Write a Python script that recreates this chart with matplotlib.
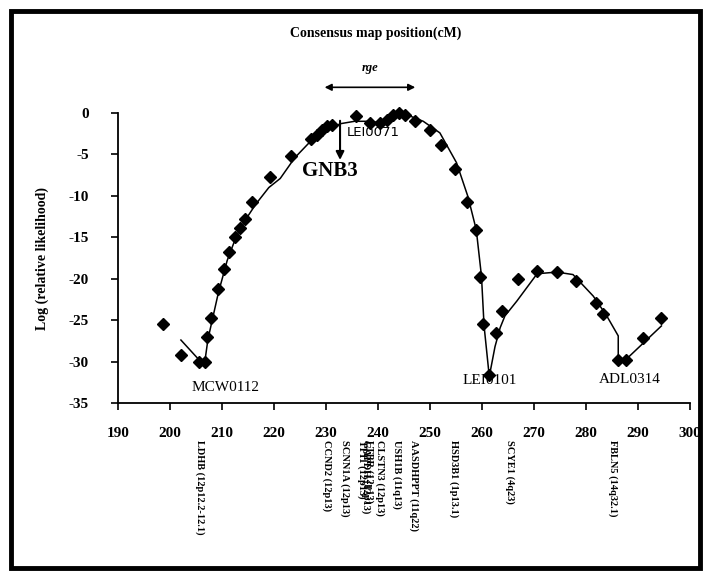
import matplotlib
matplotlib.use("Agg")
import matplotlib.pyplot as plt
from matplotlib.patches import Rectangle
from matplotlib.transforms import blended_transform_factory

plt.rcParams["axes.unicode_minus"] = False

# observed points (map position cM, log relative likelihood)
pos_cm = [198.7, 202.1, 205.5, 206.7, 207.2, 207.8, 209.2, 210.4, 211.4, 212.5,
          213.5, 214.4, 215.7, 219.2, 223.2, 227.2, 228.2, 229.2, 230.1, 231.2,
          235.8, 238.5, 240.4, 241.7, 242.9, 244.1, 245.1, 247.1, 250.0, 252.1,
          254.8, 257.2, 258.8, 259.7, 260.2, 261.4, 262.6, 263.8, 267.0, 270.6,
          274.4, 278.1, 281.9, 283.3, 286.2, 287.6, 290.9, 294.5]
log_lik = [-25.5, -29.2, -30.1, -30.0, -27.0, -24.7, -21.3, -18.8, -16.8, -15.0,
           -13.9, -12.8, -10.7, -7.7, -5.2, -3.1, -2.6, -2.0, -1.6, -1.4,
           -0.4, -1.2, -1.2, -0.8, -0.2, 0.0, -0.2, -1.0, -2.0, -3.9,
           -6.7, -10.7, -14.1, -19.8, -25.5, -31.6, -26.5, -23.9, -20.0, -19.1,
           -19.2, -20.3, -22.9, -24.3, -29.8, -29.8, -27.2, -24.7]

# fitted curve
curve_x = [202.1, 205.6, 206.7, 207.3, 209.3, 211.0, 212.8, 214.5, 216.5, 219.0,
           221.2, 224.0, 227.2, 230.0, 232.7, 235.5, 238.5, 240.4, 242.9, 245.5,
           248.7, 251.9, 255.1, 257.3, 258.9, 259.9, 260.4, 261.4, 262.5, 263.5,
           264.4, 266.7, 270.6, 274.4, 277.5, 281.4, 284.0, 286.2, 286.2, 287.6,
           294.5]
curve_y = [-27.4, -29.8, -30.0, -27.3, -21.7, -17.8, -14.8, -12.9, -11.0, -9.0,
           -7.9, -5.4, -3.3, -2.2, -1.3, -1.0, -1.0, -1.2, -0.2, -0.2,
           -1.0, -2.4, -6.0, -10.1, -14.1, -19.7, -25.7, -31.8, -28.2, -25.9,
           -24.5, -22.7, -19.4, -19.2, -19.5, -22.1, -24.5, -26.9, -29.8, -29.8,
           -25.7]

x_ticks = [190, 200, 210, 220, 230, 240, 250, 260, 270, 280, 290, 300]
y_ticks = [0, -5, -10, -15, -20, -25, -30, -35]

marker_names = ["MCW0112", "LEI0101", "ADL0314"]
marker_x = [210.6, 261.5, 288.5]
marker_y = [-33.1, -32.3, -32.2]

gene_labels = ["LDHB (12p12.2-12.1)", "CCND2 (12p13)", "SCNN1A (12p13)",
               "TPI1 (12p13)", "GAPDH (12p13)", "LTBR (12p13)",
               "CLSTN3 (12p13)", "USH1B (11q13)", "AASDHPPT (11q22)",
               "HSD3B1 (1p13.1)", "SCYE1 (4q23)", "FBLN5 (14q32.1)"]
gene_x = [205.8, 230.1, 233.6, 236.9, 237.6, 238.3, 240.4, 243.6, 246.8,
          254.5, 265.3, 285.2]

serif = ["Liberation Serif", "DejaVu Serif"]

fig = plt.figure(figsize=(7.05, 5.72), dpi=100)
ax = fig.add_axes([118/705, 1-403/572, (690-118)/705, (403-113)/572])

ax.plot(curve_x, curve_y, color="black", lw=1.1, zorder=2, clip_on=False)
ax.plot(pos_cm, log_lik, linestyle="none", marker="D", markersize=6,
        color="black", zorder=3, clip_on=False)

ax.set_xlim(190, 300)
ax.set_ylim(-35, 0)
ax.set_xticks(x_ticks)
ax.set_yticks(y_ticks)
for s in ["top", "right"]:
    ax.spines[s].set_visible(False)
for s in ["left", "bottom"]:
    ax.spines[s].set_linewidth(1.3)
ax.tick_params(axis="both", direction="out", length=5, width=1.2,
               labelsize=11)
ax.tick_params(axis="y", pad=16)
ax.tick_params(axis="x", pad=12)
for lbl in ax.get_xticklabels() + ax.get_yticklabels():
    lbl.set_fontfamily(serif)
    lbl.set_fontweight("bold")

ax.set_ylabel("Log (relative likelihood)", fontfamily=serif,
              fontweight="bold", fontsize=10, labelpad=14)

for name, mx, my in zip(marker_names, marker_x, marker_y):
    ax.text(mx, my, name, ha="center", va="center", fontfamily=serif,
            fontsize=11)

# GNB3 / LEI0071
ax.annotate("", xy=(232.7, -6.0), xytext=(232.7, -0.6),
            arrowprops=dict(arrowstyle="-|>", color="black", lw=1.5,
                            mutation_scale=12))
ax.text(234.0, -2.4, "LEI0071", ha="left", va="center",
        fontfamily=["DejaVu Sans"], fontsize=9.5)
ax.text(230.8, -7.0, "GNB3", ha="center", va="center", fontfamily=serif,
        fontweight="bold", fontsize=15)

# rge interval
ax.annotate("", xy=(229.2, 3.1), xytext=(247.7, 3.1),
            arrowprops=dict(arrowstyle="<|-|>", color="black", lw=1.2,
                            mutation_scale=10), annotation_clip=False)
ax.text(238.5, 5.4, "rge", ha="center", va="center", fontfamily=serif,
        fontstyle="italic", fontweight="bold", fontsize=9, clip_on=False)

# gene labels below axis
trans = blended_transform_factory(ax.transData, ax.transAxes)
for g, gx in zip(gene_labels, gene_x):
    ax.text(gx, -0.128, g, transform=trans, rotation=270, ha="center",
            va="top", fontfamily=serif, fontweight="bold", fontsize=7.5,
            clip_on=False)

fig.text(376/705, 1-33/572, "Consensus map position(cM)", ha="center",
         va="center", fontfamily=serif, fontweight="bold", fontsize=10)

# frame
fig.patches.append(Rectangle((11/705, 1-568/572), (700-11)/705, (568-11)/572,
                             transform=fig.transFigure, fill=False,
                             edgecolor="black", linewidth=3.5))

fig.savefig("out.png", dpi=100)
